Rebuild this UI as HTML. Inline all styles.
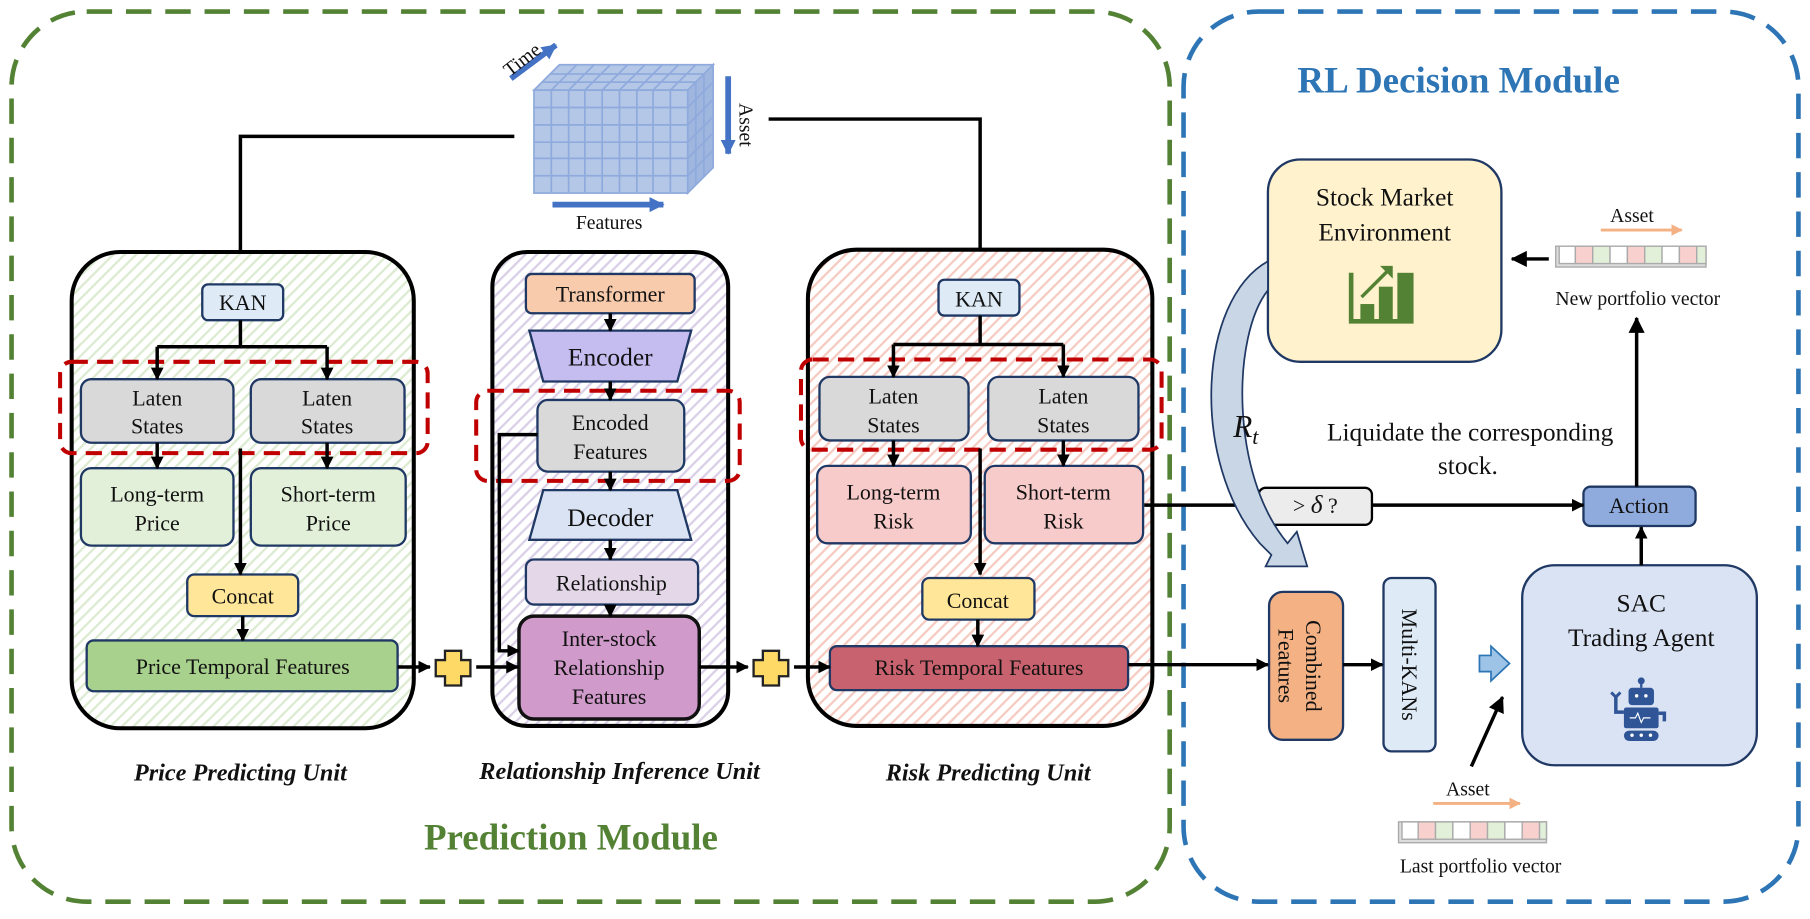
<!DOCTYPE html>
<html><head><meta charset="utf-8"><style>
html,body{margin:0;padding:0;background:#fff;}
svg{display:block;}
text{font-family:"Liberation Serif",serif;fill:#111;}
</style></head><body>
<svg width="1810" height="919" viewBox="0 0 1566 795" preserveAspectRatio="none" xmlns="http://www.w3.org/2000/svg">
<defs>
<pattern id="hg" width="7" height="7" patternUnits="userSpaceOnUse" patternTransform="rotate(45)"><rect width="7" height="7" fill="#fff"/><rect width="2" height="7" fill="#dcebd2"/></pattern>
<pattern id="hp" width="7" height="7" patternUnits="userSpaceOnUse" patternTransform="rotate(45)"><rect width="7" height="7" fill="#fff"/><rect width="2" height="7" fill="#dad0e8"/></pattern>
<pattern id="hr" width="7" height="7" patternUnits="userSpaceOnUse" patternTransform="rotate(45)"><rect width="7" height="7" fill="#fff"/><rect width="2" height="7" fill="#f5cbc2"/></pattern>
<marker id="a" markerWidth="11" markerHeight="11" refX="10" refY="5.5" orient="auto" markerUnits="userSpaceOnUse"><path d="M0,0 L11,5.5 L0,11 z" fill="#000"/></marker>
<marker id="ab" markerWidth="14" markerHeight="14" refX="13" refY="7" orient="auto" markerUnits="userSpaceOnUse"><path d="M0,0 L14,7 L0,14 z" fill="#000"/></marker>
<marker id="ao" markerWidth="10" markerHeight="10" refX="9" refY="5" orient="auto" markerUnits="userSpaceOnUse"><path d="M0,0 L10,5 L0,10 z" fill="#f4b183"/></marker>
<marker id="abl" markerWidth="13" markerHeight="13" refX="12" refY="6.5" orient="auto" markerUnits="userSpaceOnUse"><path d="M0,0 L13,6.5 L0,13 z" fill="#4472c4"/></marker>
</defs>

<rect x="10" y="10" width="1002" height="770" rx="65" fill="none" stroke="#548235" stroke-width="4" stroke-dasharray="22 12"/>
<rect x="1024" y="10" width="532" height="770" rx="65" fill="none" stroke="#2e75b6" stroke-width="4" stroke-dasharray="22 12"/>
<text x="1262" y="80" font-size="32" font-weight="bold" text-anchor="middle" style="fill:#2e75b6">RL Decision Module</text>
<text x="494" y="735" font-size="32" font-weight="bold" text-anchor="middle" style="fill:#548235">Prediction Module</text>

<g stroke="#8faadc" stroke-width="1.5">
<polygon points="462,78 484,56 617,56 595,78" fill="#b4c7e7"/>
<polygon points="595,78 617,56 617,145 595,167" fill="#9fb6de"/>
<rect x="462" y="78" width="133" height="89" fill="#b4c7e7"/>
<g fill="none">
<path d="M477,78V167M492,78V167M506,78V167M521,78V167M536,78V167M551,78V167M565,78V167M580,78V167"/>
<path d="M462,93H595M462,108H595M462,123H595M462,137H595M462,152H595"/>
<path d="M469,71H602M476,64H609M477,78L499,56M492,78L514,56M506,78L528,56M521,78L543,56M536,78L558,56M551,78L573,56M565,78L587,56M580,78L602,56"/>
<path d="M602,71V160M609,64V152M595,93L617,71M595,108L617,86M595,123L617,101M595,137L617,115M595,152L617,130"/>
</g></g>
<line x1="442" y1="68" x2="481" y2="39" stroke="#4472c4" stroke-width="5" marker-end="url(#abl)"/>
<text x="455" y="56" font-size="17" text-anchor="middle" transform="rotate(-38 455 56)">Time</text>
<line x1="630" y1="66" x2="630" y2="133" stroke="#4472c4" stroke-width="5" marker-end="url(#abl)"/>
<text x="640" y="108" font-size="17" text-anchor="middle" transform="rotate(90 640 108)">Asset</text>
<line x1="478" y1="177" x2="574" y2="177" stroke="#4472c4" stroke-width="5" marker-end="url(#abl)"/>
<text x="527" y="198" font-size="17" text-anchor="middle">Features</text>

<g stroke="#000" stroke-width="3" fill="none">
<path d="M445,118H208V245" marker-end="url(#a)"/>
<path d="M665,103H848V240" marker-end="url(#a)"/>
</g>

<rect x="62" y="218" width="296" height="412" rx="42" fill="url(#hg)" stroke="#000" stroke-width="3.5"/>
<rect x="426" y="218" width="204" height="410" rx="30" fill="url(#hp)" stroke="#000" stroke-width="3.5"/>
<rect x="699" y="216" width="298" height="412" rx="42" fill="url(#hr)" stroke="#000" stroke-width="3.5"/>

<g stroke="#1f3864" stroke-width="2">
<rect x="175" y="246" width="70" height="31" rx="5" fill="#deebf7"/>
<rect x="70" y="328" width="132" height="55" rx="9" fill="#d9d9d9"/>
<rect x="217" y="328" width="133" height="55" rx="9" fill="#d9d9d9"/>
<rect x="70" y="405" width="132" height="67" rx="9" fill="#e2f0d9"/>
<rect x="217" y="405" width="134" height="67" rx="9" fill="#e2f0d9"/>
<rect x="162" y="497" width="96" height="36" rx="6" fill="#ffe699"/>
<rect x="75" y="554" width="269" height="44" rx="6" fill="#a9d18e"/>
<rect x="455" y="237" width="146" height="34" rx="5" fill="#f8cbad"/>
<polygon points="458,286 598,286 586,330 470,330" fill="#c5bdf0"/>
<rect x="465" y="346" width="127" height="62" rx="9" fill="#d9d9d9"/>
<polygon points="470,424 586,424 598,467 458,467" fill="#dae3f3"/>
<rect x="455" y="484" width="149" height="39" rx="7" fill="#e4d7e8"/>
<rect x="449" y="533" width="156" height="89" rx="13" fill="#d09acb" stroke="#111" stroke-width="3"/>
<rect x="812" y="242" width="70" height="31" rx="5" fill="#deebf7"/>
<rect x="709" y="326" width="129" height="55" rx="9" fill="#d9d9d9"/>
<rect x="855" y="326" width="130" height="55" rx="9" fill="#d9d9d9"/>
<rect x="707" y="403" width="133" height="67" rx="9" fill="#f8cbcb"/>
<rect x="852" y="403" width="137" height="67" rx="9" fill="#f8cbcb"/>
<rect x="798" y="500" width="97" height="36" rx="6" fill="#ffe699"/>
<rect x="718" y="559" width="258" height="38" rx="6" fill="#c9626f"/>
<rect x="1097" y="138" width="202" height="175" rx="28" fill="#fff2cc"/>
<rect x="1317" y="489" width="203" height="173" rx="28" fill="#dae3f3"/>
<rect x="1370" y="421" width="97" height="34" rx="6" fill="#8faadc"/>
<rect x="1098" y="512" width="64" height="128" rx="12" fill="#f4b183"/>
<rect x="1197" y="500" width="45" height="150" rx="7" fill="#deebf7"/>
</g>
<rect x="1089" y="422" width="98" height="32" rx="6" fill="#ececec" stroke="#000" stroke-width="2"/>

<g fill="none" stroke="#c00000" stroke-width="3.5" stroke-dasharray="14 8">
<rect x="52" y="313" width="318" height="79" rx="10"/>
<rect x="412" y="338" width="228" height="78" rx="10"/>
<rect x="693" y="311" width="312" height="78" rx="10"/>
</g>

<g stroke="#000" stroke-width="3" fill="none">
<path d="M208,277V300M136,300H283M136,300V328" marker-end="url(#a)"/><path d="M283,300V328" marker-end="url(#a)"/>
<path d="M136,383V405" marker-end="url(#a)"/><path d="M283,383V405" marker-end="url(#a)"/>
<path d="M208,388V497" marker-end="url(#a)"/><path d="M210,533V554" marker-end="url(#a)"/>
<path d="M528,271V286" marker-end="url(#a)"/><path d="M528,330V346" marker-end="url(#a)"/>
<path d="M528,408V424" marker-end="url(#a)"/><path d="M528,467V484" marker-end="url(#a)"/><path d="M528,523V533" marker-end="url(#a)"/>
<path d="M465,376H432V563H449" marker-end="url(#a)"/>
<path d="M848,273V298M773,298H920M773,298V326" marker-end="url(#a)"/><path d="M920,298V326" marker-end="url(#a)"/>
<path d="M773,381V403" marker-end="url(#a)"/><path d="M920,381V403" marker-end="url(#a)"/>
<path d="M848,388V497" marker-end="url(#a)"/><path d="M846,536V559" marker-end="url(#a)"/>
<path d="M344,577H372" marker-end="url(#a)"/><path d="M412,577H448" marker-end="url(#a)"/>
<path d="M605,577H647" marker-end="url(#a)"/><path d="M687,577H718" marker-end="url(#a)"/>
<path d="M976,575H1097" marker-end="url(#a)"/><path d="M1162,575H1196" marker-end="url(#a)"/>
<path d="M990,437H1089" marker-end="url(#a)"/><path d="M1187,437H1370" marker-end="url(#a)"/>
<path d="M1420,489V456" marker-end="url(#a)"/>
<path d="M1416,421V275" marker-end="url(#ab)"/>
<path d="M1340,224H1308" marker-end="url(#ab)"/>
<path d="M1273,663L1300,603" marker-end="url(#ab)"/>
</g>

<path d="M385,563h14v8h8v14h-8v8h-14v-8h-8v-14h8z" fill="#ffd966" stroke="#222" stroke-width="2"/>
<path d="M660,563h14v8h8v14h-8v8h-14v-8h-8v-14h8z" fill="#ffd966" stroke="#222" stroke-width="2"/>

<path d="M1280,567h10v-8l16,15l-16,15v-8h-10z" fill="#9dc3e6" stroke="#2e75b6" stroke-width="1.5"/>

<path d="M1097,226 C1036,260 1030,400 1090,470 L1100,480 L1095,490 L1131,490 L1122,460 L1114,470 C1064,410 1066,290 1097,251 Z" fill="#c9d6e6" stroke="#1f3864" stroke-width="1.5"/>

<g font-size="19" text-anchor="middle">
<text x="210" y="268">KAN</text>
<text x="136" y="351">Laten</text><text x="136" y="375">States</text>
<text x="283" y="351">Laten</text><text x="283" y="375">States</text>
<text x="136" y="434">Long-term</text><text x="136" y="459">Price</text>
<text x="284" y="434">Short-term</text><text x="284" y="459">Price</text>
<text x="210" y="522">Concat</text>
<text x="210" y="583">Price Temporal Features</text>
<text x="528" y="261">Transformer</text>
<text x="528" y="316" font-size="22">Encoder</text>
<text x="528" y="372">Encoded</text><text x="528" y="397">Features</text>
<text x="528" y="455" font-size="22">Decoder</text>
<text x="529" y="511">Relationship</text>
<text x="527" y="559">Inter-stock</text><text x="527" y="584">Relationship</text><text x="527" y="609">Features</text>
<text x="847" y="265">KAN</text>
<text x="773" y="349">Laten</text><text x="773" y="374">States</text>
<text x="920" y="349">Laten</text><text x="920" y="374">States</text>
<text x="773" y="432">Long-term</text><text x="773" y="457">Risk</text>
<text x="920" y="432">Short-term</text><text x="920" y="457">Risk</text>
<text x="846" y="526">Concat</text>
<text x="847" y="584">Risk Temporal Features</text>
<text x="1418" y="444">Action</text>
<text x="1138" y="444">&gt; <tspan font-style="italic" font-size="22">δ</tspan> ?</text>
</g>
<g font-size="21" font-weight="bold" font-style="italic" text-anchor="middle">
<text x="208" y="675">Price Predicting Unit</text>
<text x="536" y="674">Relationship Inference Unit</text>
<text x="855" y="675">Risk Predicting Unit</text>
</g>
<g font-size="22" text-anchor="middle">
<text x="1198" y="178">Stock Market</text><text x="1198" y="208">Environment</text>
<text x="1420" y="529">SAC</text><text x="1420" y="559">Trading Agent</text>
<text x="1272" y="381">Liquidate the corresponding</text><text x="1270" y="410">stock.</text>
</g>
<text x="1067" y="378" font-size="27" font-style="italic">R<tspan font-size="19" dy="6">t</tspan></text>
<text x="1130" y="576" font-size="19" text-anchor="middle" transform="rotate(90 1130 576)">Combined</text>
<text x="1106" y="576" font-size="19" text-anchor="middle" transform="rotate(90 1106 576)">Features</text>
<text x="1213" y="575" font-size="19" text-anchor="middle" transform="rotate(90 1213 575)">Multi-KANs</text>

<g fill="#548235">
<path d="M1167,236h4v40h52v4h-56z"/>
<rect x="1177" y="263" width="12" height="14"/><rect x="1193" y="248" width="12" height="29"/><rect x="1209" y="236" width="14" height="41"/>
<path d="M1178,257L1200,235" stroke="#548235" stroke-width="3"/><path d="M1194,230h11v11z"/>
</g>

<g fill="#2f5597">
<circle cx="1420" cy="589" r="3"/><rect x="1419" y="590" width="2" height="5"/>
<rect x="1409" y="595" width="22" height="15" rx="3"/>
<rect x="1405" y="612" width="30" height="18" rx="2"/>
<rect x="1405" y="632" width="30" height="9" rx="4.5"/>
<path d="M1405,616h-7v-13" stroke="#2f5597" stroke-width="3" fill="none"/>
<path d="M1394,599l4,4l4,-4" stroke="#2f5597" stroke-width="2.5" fill="none"/>
<path d="M1435,617h5v7" stroke="#2f5597" stroke-width="3" fill="none"/>
</g>
<g fill="#fff"><circle cx="1416" cy="602" r="1.5"/><circle cx="1424" cy="602" r="1.5"/><circle cx="1412" cy="636" r="1.5"/><circle cx="1420" cy="636" r="1.5"/><circle cx="1428" cy="636" r="1.5"/></g>
<path d="M1410,621h5l2,-4l3,8l2,-4h6" stroke="#fff" stroke-width="1" fill="none"/>

<text x="1412" y="192" font-size="17" text-anchor="middle">Asset</text>
<line x1="1385" y1="199" x2="1455" y2="199" stroke="#f4b183" stroke-width="2.5" marker-end="url(#ao)"/>
<g stroke="#aaa" stroke-width="1.2">
<rect x="1346" y="213" width="130" height="18" fill="#ddd"/>
<rect x="1349" y="213" width="14" height="15" fill="#fff"/><rect x="1363" y="213" width="15" height="15" fill="#f8d0cd"/><rect x="1378" y="213" width="15" height="15" fill="#e2efd9"/><rect x="1393" y="213" width="15" height="15" fill="#fff"/><rect x="1408" y="213" width="15" height="15" fill="#f8d0cd"/><rect x="1423" y="213" width="15" height="15" fill="#e2efd9"/><rect x="1438" y="213" width="15" height="15" fill="#fff"/><rect x="1453" y="213" width="15" height="15" fill="#f8d0cd"/><rect x="1468" y="213" width="8" height="15" fill="#e2efd9"/>
</g>
<text x="1417" y="264" font-size="17" text-anchor="middle">New portfolio vector</text>

<text x="1270" y="688" font-size="17" text-anchor="middle">Asset</text>
<line x1="1240" y1="695" x2="1315" y2="695" stroke="#f4b183" stroke-width="2.5" marker-end="url(#ao)"/>
<g stroke="#aaa" stroke-width="1.2">
<rect x="1210" y="711" width="128" height="18" fill="#ddd"/>
<rect x="1213" y="711" width="14" height="15" fill="#fff"/><rect x="1227" y="711" width="15" height="15" fill="#f8d0cd"/><rect x="1242" y="711" width="15" height="15" fill="#e2efd9"/><rect x="1257" y="711" width="15" height="15" fill="#fff"/><rect x="1272" y="711" width="15" height="15" fill="#f8d0cd"/><rect x="1287" y="711" width="15" height="15" fill="#e2efd9"/><rect x="1302" y="711" width="15" height="15" fill="#fff"/><rect x="1317" y="711" width="15" height="15" fill="#f8d0cd"/><rect x="1332" y="711" width="6" height="15" fill="#e2efd9"/>
</g>
<text x="1281" y="755" font-size="17" text-anchor="middle">Last portfolio vector</text>
</svg>
</body></html>
